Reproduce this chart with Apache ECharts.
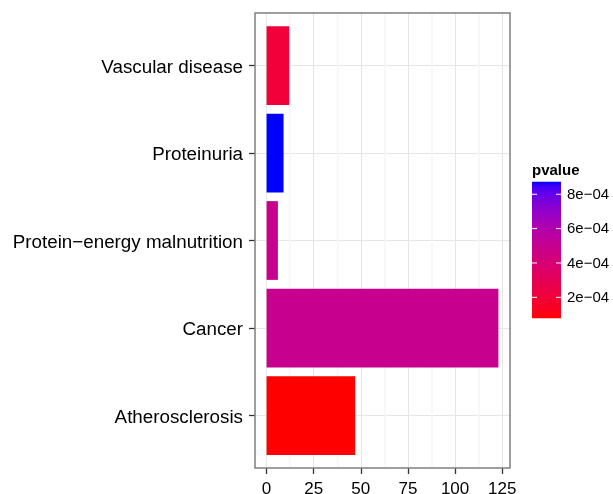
<!DOCTYPE html>
<html><head><meta charset="utf-8">
<script src="https://cdn.jsdelivr.net/npm/echarts@6/dist/echarts.min.js"></script>
<style>html,body{margin:0;padding:0;background:#fff}#c{width:613px;height:494px}</style>
</head><body><div id="c"></div>
<script>
const categories = ['Atherosclerosis', 'Cancer', 'Protein\u2212energy malnutrition', 'Proteinuria', 'Vascular disease'];
const counts = [47, 123, 6, 9, 12];
const pvalues = [7.8e-5, 4.9e-4, 4.9e-4, 8.73e-4, 2.05e-4];
const xTicks = [0, 25, 50, 75, 100, 125];
const legendTicks = [2e-4, 4e-4, 6e-4, 8e-4];
const legendTitle = 'pvalue';
const lowColor = '#ff0000', highColor = '#0000ff';

// --- Lab colour interpolation (like ggplot's scale_fill_gradient) ---
function hex2rgb(h){return [1,3,5].map(i=>parseInt(h.substr(i,2),16)/255);}
function lin(c){return c<=0.04045?c/12.92:Math.pow((c+0.055)/1.055,2.4);}
function unlin(c){c=Math.max(0,Math.min(1,c));return c<=0.0031308?12.92*c:1.055*Math.pow(c,1/2.4)-0.055;}
const Xn=0.95047,Yn=1,Zn=1.08883;
function f(t){return t>0.008856?Math.cbrt(t):7.787*t+16/116;}
function finv(t){return t>0.206893?t*t*t:(t-16/116)/7.787;}
function rgb2lab(rgb){const [r,g,b]=rgb.map(lin);
  const X=0.4124*r+0.3576*g+0.1805*b,Y=0.2126*r+0.7152*g+0.0722*b,Z=0.0193*r+0.1192*g+0.9505*b;
  const fx=f(X/Xn),fy=f(Y/Yn),fz=f(Z/Zn);return [116*fy-16,500*(fx-fy),200*(fy-fz)];}
function lab2hex(lab){const fy=(lab[0]+16)/116,fx=fy+lab[1]/500,fz=fy-lab[2]/200;
  const X=Xn*finv(fx),Y=Yn*finv(fy),Z=Zn*finv(fz);
  const r=3.2406*X-1.5372*Y-0.4986*Z,g=-0.9689*X+1.8758*Y+0.0415*Z,b=0.0557*X-0.2040*Y+1.0570*Z;
  return '#'+[r,g,b].map(c=>Math.round(unlin(c)*255).toString(16).padStart(2,'0')).join('');}
const labLow=rgb2lab(hex2rgb(lowColor)), labHigh=rgb2lab(hex2rgb(highColor));
const pmin=Math.min(...pvalues), pmax=Math.max(...pvalues);
function colorAt(t){return lab2hex(labLow.map((v,i)=>v+(labHigh[i]-v)*t));}
function colorOf(p){return colorAt((p-pmin)/(pmax-pmin));}

function fmtExp(v){const s=v.toExponential(0).split('e');const e=parseInt(s[1],10);
  return s[0]+'e'+(e<0?'\u2212':'+')+String(Math.abs(e)).padStart(2,'0');}

const maxC=Math.max(...counts);
const xMin=-0.05*maxC, xMax=maxC*1.05;
const yMin=0.4, yMax=categories.length+0.6;
const minorTicks=xTicks.slice(0,-1).map((t,i)=>(t+xTicks[i+1])/2);
const catPos=categories.map((c,i)=>i+1);

const chart=echarts.init(document.getElementById('c'),null,{renderer:'canvas'});

// colour bar legend geometry
const lgX=532, lgW=29, lgTop=181.7, lgH=136.6, lgBottom=lgTop+lgH;
const stops=[];for(let i=0;i<=30;i++){stops.push({offset:i/30,color:colorAt(i/30)});}
const graphics=[
  {type:'text',left:lgX,top:163,style:{text:legendTitle,font:'bold 15px "Liberation Sans", Arial, sans-serif',fill:'#000'}},
  {type:'rect',shape:{x:lgX,y:lgTop,width:lgW,height:lgH},
   style:{fill:new echarts.graphic.LinearGradient(0,1,0,0,stops)}}
];
legendTicks.forEach(t=>{
  const y=lgBottom-(t-pmin)/(pmax-pmin)*lgH;
  graphics.push({type:'line',shape:{x1:lgX,y1:y,x2:lgX+5,y2:y},style:{stroke:'#fff',lineWidth:1}});
  graphics.push({type:'line',shape:{x1:lgX+lgW-5,y1:y,x2:lgX+lgW,y2:y},style:{stroke:'#fff',lineWidth:1}});
  graphics.push({type:'text',x:567,y:y+0.5,style:{text:fmtExp(t),font:'15px "Liberation Sans", Arial, sans-serif',fill:'#000',verticalAlign:'middle',align:'left'}});
});

chart.setOption({
  animation:false,
  backgroundColor:'#fff',
  grid:{left:255,right:103,top:13,bottom:26,containLabel:false,outerBoundsMode:'none',show:true,borderColor:'#7f7f7f',borderWidth:1.5,backgroundColor:'transparent',z:10},
  xAxis:[{
    type:'value',min:xMin,max:xMax,
    axisLine:{show:false,onZero:false},
    axisTick:{show:true,length:6,lineStyle:{color:'#333',width:1.3},customValues:xTicks},
    axisLabel:{customValues:xTicks,margin:13,fontSize:17,color:'#000',fontFamily:'"Liberation Sans", Arial, sans-serif'},
    splitLine:{show:true,lineStyle:{color:'#e6e6e6',width:1}}
  },{
    type:'value',min:xMin,max:xMax,position:'top',
    axisLine:{show:false,onZero:false},axisTick:{show:false,customValues:minorTicks},axisLabel:{show:false,customValues:minorTicks},
    splitLine:{show:true,lineStyle:{color:'#f6f6f6',width:1.5}}
  }],
  yAxis:{
    type:'value',min:yMin,max:yMax,
    axisLine:{show:false,onZero:false},
    axisTick:{show:true,length:6,lineStyle:{color:'#333',width:1.3},customValues:catPos},
    axisLabel:{customValues:catPos,margin:12,fontSize:18.8,color:'#000',fontFamily:'"Liberation Sans", Arial, sans-serif',
      formatter:v=>'{a|'+categories[Math.round(v)-1]+'}',
      rich:{a:{fontSize:18.8,color:'#000',fontFamily:'"Liberation Sans", Arial, sans-serif',padding:[4,0,0,0]}}},
    splitLine:{show:true,lineStyle:{color:'#e6e6e6',width:1}}
  },
  graphic:graphics,
  series:[{
    type:'custom',
    xAxisIndex:0,
    data:categories.map((c,i)=>[counts[i],catPos[i],pvalues[i]]),
    encode:{x:0,y:1},
    renderItem:function(params,api){
      const y=api.value(1),v=api.value(0);
      const p0=api.coord([0,y]),p1=api.coord([v,y]);
      const h=api.size([0,0.9])[1];
      return {type:'rect',shape:{x:p0[0],y:p0[1]-h/2,width:p1[0]-p0[0],height:h},
        style:{fill:colorOf(api.value(2))}};
    }
  }]
});
</script></body></html>
